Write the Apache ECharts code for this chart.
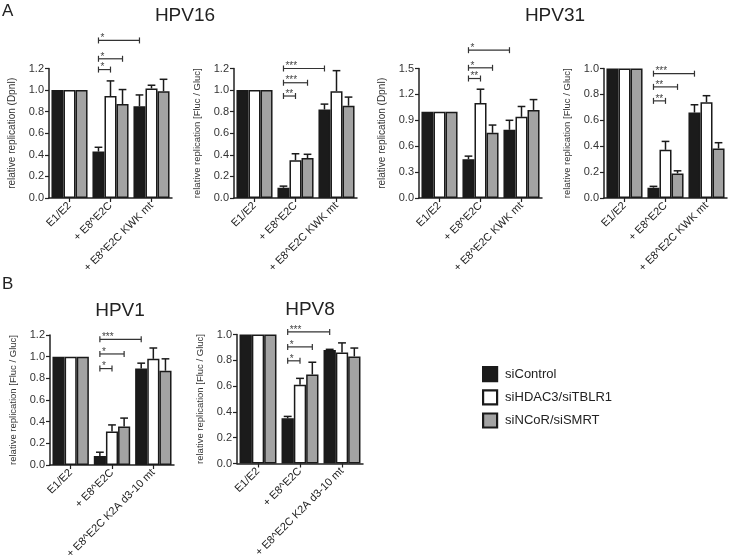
<!DOCTYPE html>
<html><head><meta charset="utf-8">
<script src="https://cdn.jsdelivr.net/npm/echarts@6/dist/echarts.min.js"></script>
<style>html,body{margin:0;padding:0;background:#fff}#c{width:733px;height:559px}</style>
</head><body><div id="c"></div><script>
// ---------- categories / names ----------
const catsA = ['E1/E2', '+ E8^E2C', '+ E8^E2C KWK mt'];
const catsB = ['E1/E2', '+ E8^E2C', '+ E8^E2C K2A d3-10 mt'];
const seriesNames = ['siControl', 'siHDAC3/siTBLR1', 'siNCoR/siSMRT'];

// ---------- HPV16, DpnI ----------
const hpv16D_ctrl = [1.00, 0.43, 0.85], hpv16D_ctrlErr = [0, 0.04, 0.105];
const hpv16D_hdac = [1.00, 0.945, 1.015], hpv16D_hdacErr = [0, 0.14, 0.03];
const hpv16D_ncor = [1.00, 0.87, 0.99], hpv16D_ncorErr = [0, 0.135, 0.11];
const hpv16D_sigY = [1.19, 1.29, 1.46], hpv16D_sig = ['*', '*', '*'];
// ---------- HPV16, Fluc/Gluc ----------
const hpv16F_ctrl = [1.00, 0.095, 0.82], hpv16F_ctrlErr = [0, 0.015, 0.05];
const hpv16F_hdac = [1.00, 0.35, 0.99], hpv16F_hdacErr = [0, 0.06, 0.19];
const hpv16F_ncor = [1.00, 0.37, 0.855], hpv16F_ncorErr = [0, 0.035, 0.08];
const hpv16F_sigY = [0.945, 1.068, 1.2], hpv16F_sig = ['**', '***', '***'];
// ---------- HPV31, DpnI ----------
const hpv31D_ctrl = [1.00, 0.45, 0.79], hpv31D_ctrlErr = [0, 0.035, 0.11];
const hpv31D_hdac = [1.00, 1.10, 0.94], hpv31D_hdacErr = [0, 0.16, 0.12];
const hpv31D_ncor = [1.00, 0.755, 1.02], hpv31D_ncorErr = [0, 0.09, 0.12];
const hpv31D_sigY = [1.384, 1.508, 1.712], hpv31D_sig = ['**', '*', '*'];
// ---------- HPV31, Fluc/Gluc ----------
const hpv31F_ctrl = [1.00, 0.08, 0.66], hpv31F_ctrlErr = [0, 0.01, 0.06];
const hpv31F_hdac = [1.00, 0.372, 0.74], hpv31F_hdacErr = [0, 0.065, 0.05];
const hpv31F_ncor = [1.00, 0.19, 0.382], hpv31F_ncorErr = [0, 0.02, 0.045];
const hpv31F_sigY = [0.75, 0.858, 0.96], hpv31F_sig = ['**', '**', '***'];
// ---------- HPV1, Fluc/Gluc ----------
const hpv1_ctrl = [1.00, 0.083, 0.89], hpv1_ctrlErr = [0, 0.035, 0.05];
const hpv1_hdac = [1.00, 0.31, 0.98], hpv1_hdacErr = [0, 0.06, 0.1];
const hpv1_ncor = [1.00, 0.355, 0.87], hpv1_ncorErr = [0, 0.078, 0.11];
const hpv1_sigY = [0.89, 1.025, 1.16], hpv1_sig = ['*', '*', '***'];
// ---------- HPV8, Fluc/Gluc ----------
const hpv8_ctrl = [1.00, 0.35, 0.88], hpv8_ctrlErr = [0, 0.015, 0.005];
const hpv8_hdac = [1.00, 0.61, 0.86], hpv8_hdacErr = [0, 0.05, 0.075];
const hpv8_ncor = [1.00, 0.69, 0.83], hpv8_ncorErr = [0, 0.095, 0.065];
const hpv8_sigY = [0.796, 0.904, 1.02], hpv8_sig = ['*', '*', '***'];

// bracket from siControl bar of category 1 to [category, series]
const BRACKET_TARGETS = [[1, 1], [1, 2], [2, 0]];

// ---------- styles / layout ----------
const FONT = 'Liberation Sans, Arial, sans-serif';
const COLORS = ['#1b1b1b', '#ffffff', '#a3a3a3'];
const EDGE = '#1a1a1a';
const GAP = 0.12;
const nameD = 'relative replication (DpnI)';
const nameF = 'relative replication [Fluc / Gluc]';

const panels = [
  {grid: {left: 49, top: 68.5, width: 123, height: 129.5}, cats: catsA, max: 1.2, interval: 0.2, name: nameD, nameSize: 10,
   vals: [hpv16D_ctrl, hpv16D_hdac, hpv16D_ncor], errs: [hpv16D_ctrlErr, hpv16D_hdacErr, hpv16D_ncorErr], sigY: hpv16D_sigY, sig: hpv16D_sig},
  {grid: {left: 234, top: 68.5, width: 123, height: 129.5}, cats: catsA, max: 1.2, interval: 0.2, name: nameF, nameSize: 9.5,
   vals: [hpv16F_ctrl, hpv16F_hdac, hpv16F_ncor], errs: [hpv16F_ctrlErr, hpv16F_hdacErr, hpv16F_ncorErr], sigY: hpv16F_sigY, sig: hpv16F_sig},
  {grid: {left: 419, top: 68.5, width: 123, height: 129.5}, cats: catsA, max: 1.5, interval: 0.3, name: nameD, nameSize: 10,
   vals: [hpv31D_ctrl, hpv31D_hdac, hpv31D_ncor], errs: [hpv31D_ctrlErr, hpv31D_hdacErr, hpv31D_ncorErr], sigY: hpv31D_sigY, sig: hpv31D_sig},
  {grid: {left: 604, top: 68.5, width: 123, height: 129.5}, cats: catsA, max: 1.0, interval: 0.2, name: nameF, nameSize: 9.5,
   vals: [hpv31F_ctrl, hpv31F_hdac, hpv31F_ncor], errs: [hpv31F_ctrlErr, hpv31F_hdacErr, hpv31F_ncorErr], sigY: hpv31F_sigY, sig: hpv31F_sig},
  {grid: {left: 50, top: 335, width: 124, height: 130}, cats: catsB, max: 1.2, interval: 0.2, name: nameF, nameSize: 9.5,
   vals: [hpv1_ctrl, hpv1_hdac, hpv1_ncor], errs: [hpv1_ctrlErr, hpv1_hdacErr, hpv1_ncorErr], sigY: hpv1_sigY, sig: hpv1_sig},
  {grid: {left: 237, top: 334.5, width: 126, height: 129}, cats: catsB, max: 1.0, interval: 0.2, name: nameF, nameSize: 9.5,
   vals: [hpv8_ctrl, hpv8_hdac, hpv8_ncor], errs: [hpv8_ctrlErr, hpv8_hdacErr, hpv8_ncorErr], sigY: hpv8_sigY, sig: hpv8_sig}
];

function errRender(params, api) {
  const cat = api.value(0), v = api.value(1), e = api.value(2), s = api.value(3);
  if (!e) return null;
  const c = api.coord([cat, v]);
  const t = api.coord([cat, v + e]);
  const band = api.size([1, 0])[0];
  const bw = band * (1 - GAP) / 3;
  const x = c[0] + (s - 1) * bw;
  const hw = bw * 0.32;
  const st = {stroke: EDGE, lineWidth: 1.5};
  return {type: 'group', children: [
    {type: 'line', shape: {x1: x, y1: c[1], x2: x, y2: t[1]}, style: st},
    {type: 'line', shape: {x1: x - hw, y1: t[1], x2: x + hw, y2: t[1]}, style: st}
  ]};
}

function makeBracketRender(labels) {
  return function (params, api) {
    const i = params.dataIndex;
    const y = api.value(1);
    const band = api.size([1, 0])[0];
    const bw = band * (1 - GAP) / 3;
    const pc = api.coord([1, y]);
    const x1 = pc[0] - bw;
    const tg = BRACKET_TARGETS[i];
    const pt = api.coord([tg[0], y]);
    const x2 = pt[0] + (tg[1] - 1) * bw;
    const yy = pc[1];
    const st = {stroke: '#333', lineWidth: 1.2};
    return {type: 'group', children: [
      {type: 'line', shape: {x1: x1, y1: yy, x2: x2, y2: yy}, style: st},
      {type: 'line', shape: {x1: x1, y1: yy - 3, x2: x1, y2: yy + 3}, style: st},
      {type: 'line', shape: {x1: x2, y1: yy - 3, x2: x2, y2: yy + 3}, style: st},
      {type: 'text', style: {text: labels[i], x: x1 + 2, y: yy + 3, fill: '#444', fontSize: 10, fontFamily: FONT, align: 'left', verticalAlign: 'bottom'}}
    ]};
  };
}

const option = {
  animation: false,
  backgroundColor: '#fff',
  grid: [], xAxis: [], yAxis: [], series: [],
  legend: {
    data: seriesNames, orient: 'vertical', left: 477, top: 361,
    itemWidth: 14, itemHeight: 14, itemGap: 7, icon: 'rect', selectedMode: false,
    itemStyle: {borderColor: EDGE, borderWidth: 2.2},
    textStyle: {fontSize: 13, color: '#222', fontFamily: FONT, padding: [0, 0, 0, 3]}
  },
  graphic: [
    {type: 'text', x: 2, y: 3, style: {text: 'A', font: '17px ' + FONT, fill: '#222'}},
    {type: 'text', x: 2, y: 276, style: {text: 'B', font: '17px ' + FONT, fill: '#222'}},
    {type: 'text', x: 185, y: 16, style: {text: 'HPV16', font: '19px ' + FONT, fill: '#222', align: 'center', verticalAlign: 'middle'}},
    {type: 'text', x: 555, y: 16, style: {text: 'HPV31', font: '19px ' + FONT, fill: '#222', align: 'center', verticalAlign: 'middle'}},
    {type: 'text', x: 120, y: 311, style: {text: 'HPV1', font: '19px ' + FONT, fill: '#222', align: 'center', verticalAlign: 'middle'}},
    {type: 'text', x: 310, y: 310, style: {text: 'HPV8', font: '19px ' + FONT, fill: '#222', align: 'center', verticalAlign: 'middle'}}
  ]
};

panels.forEach((p, i) => {
  option.grid.push(Object.assign({containLabel: false, outerBoundsMode: 'none'}, p.grid));
  option.xAxis.push({
    type: 'category', gridIndex: i, data: p.cats,
    axisLine: {show: true, lineStyle: {color: '#222', width: 1.5}},
    axisTick: {show: true, alignWithLabel: true, length: 4, lineStyle: {color: '#222', width: 1.2}},
    axisLabel: {interval: 0, rotate: 45, fontSize: 11, color: '#222', margin: 6, fontFamily: FONT, hideOverlap: false},
    splitLine: {show: false}
  });
  option.yAxis.push({
    type: 'value', gridIndex: i, min: 0, max: p.max, interval: p.interval,
    name: p.name, nameLocation: 'middle', nameGap: 32,
    nameTextStyle: {fontSize: p.nameSize, color: '#333', fontFamily: FONT},
    axisLine: {show: true, lineStyle: {color: '#222', width: 1.5}},
    axisTick: {show: true, length: 4, lineStyle: {color: '#222', width: 1.2}},
    axisLabel: {formatter: v => v.toFixed(1), fontSize: 11, color: '#333', margin: 5, fontFamily: FONT},
    splitLine: {show: false}
  });
  const errData = [];
  seriesNames.forEach((n, s) => {
    option.series.push({
      type: 'bar', name: n, xAxisIndex: i, yAxisIndex: i, data: p.vals[s],
      barGap: '0%', barCategoryGap: (GAP * 100) + '%', silent: true,
      itemStyle: {color: COLORS[s], borderColor: EDGE, borderWidth: 1.5}
    });
    p.vals[s].forEach((v, c) => errData.push([c, v, p.errs[s][c], s]));
  });
  option.series.push({type: 'custom', xAxisIndex: i, yAxisIndex: i, data: errData,
    encode: {x: 0, y: 1}, renderItem: errRender, z: 3, silent: true});
  option.series.push({type: 'custom', xAxisIndex: i, yAxisIndex: i,
    data: p.sigY.map(y => [1, y]), encode: {x: 0, y: 1},
    renderItem: makeBracketRender(p.sig), z: 3, silent: true, clip: false});
});

const chart = echarts.init(document.getElementById('c'), null, {renderer: 'canvas'});
chart.setOption(option);
</script></body></html>
